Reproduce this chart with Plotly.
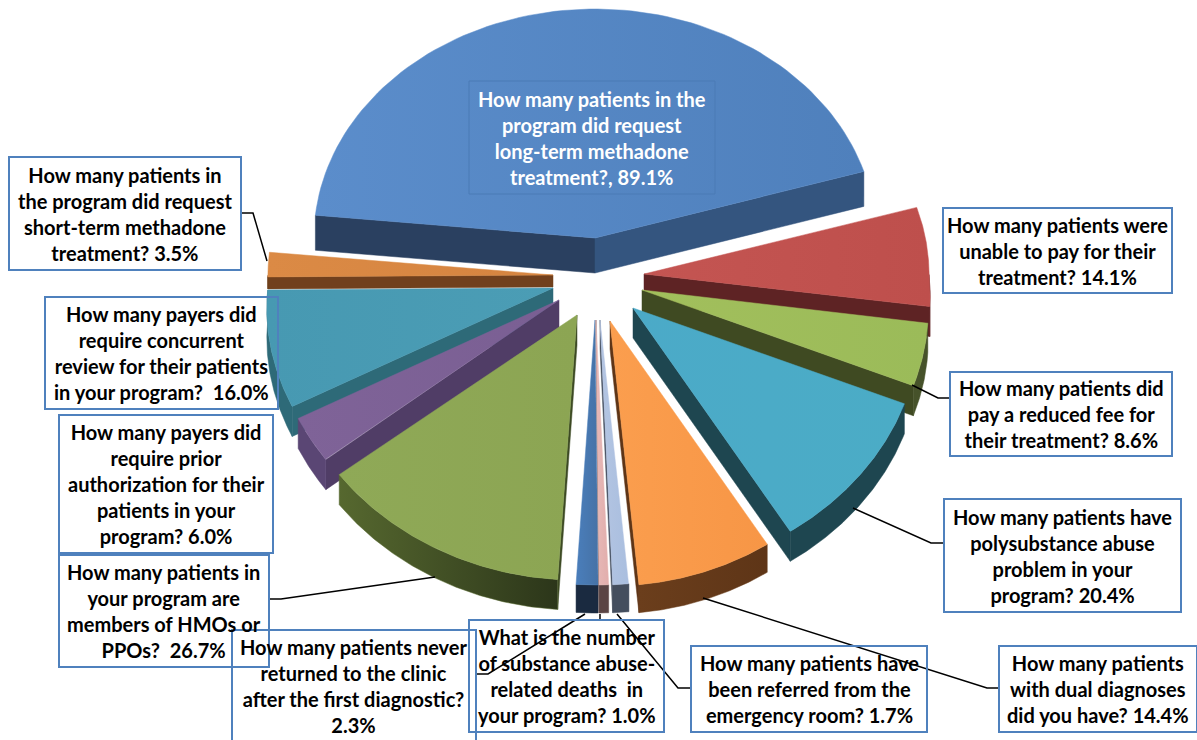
import numpy as np
import plotly.graph_objects as go

# ---- data ----
values = [89.1, 14.1, 8.6, 20.4, 14.4, 1.7, 1.0, 2.3, 26.7, 6.0, 16.0, 3.5]
labels = [
    "How many patients in the<br>program did request<br>long-term methadone<br>treatment?, 89.1%",
    "How many patients were<br>unable to pay for their<br>treatment? 14.1%",
    "How many patients did<br>pay a reduced fee for<br>their treatment? 8.6%",
    "How many patients have<br>polysubstance abuse<br>problem in your<br>program? 20.4%",
    "How many patients<br>with dual diagnoses<br>did you have? 14.4%",
    "How many patients have<br>been referred from the<br>emergency room? 1.7%",
    "What is the number<br>of substance abuse-<br>related deaths  in<br>your program? 1.0%",
    "How many patients never<br>returned to the clinic<br>after the first diagnostic?<br>2.3%",
    "How many patients in<br>your program are<br>members of HMOs or<br>PPOs?  26.7%",
    "How many payers did<br>require prior<br>authorization for their<br>patients in your<br>program? 6.0%",
    "How many payers did<br>require concurrent<br>review for their patients<br>in your program?  16.0%",
    "How many patients in<br>the program did request<br>short-term methadone<br>treatment? 3.5%",
]

# ---- layout of the exploded 3-D look (not data) ----
START = -84.3
apex = [(595, 238), (644, 274), (642, 290), (633, 308), (610, 321), (600, 320),
        (596, 320), (595, 320), (577, 315), (559, 300), (553, 288), (553, 275)]
depth = [35, 30, 30, 30, 28, 28, 28, 28, 30, 30, 30, 12]
rx_base = [281, 285, 285, 285, 285, 285, 285, 285, 291, 285, 285, 285]
top_l = ["#5B8DCB", "#C45552", "#A2BF5C", "#4BAAC8", "#FB9E4E", "#B4C5E2", "#E6B8B7", "#4A7EBB",
         "#8FA957", "#7F6398", "#4799B2", "#DB8A45"]
top_r = ["#4F80BC", "#BE4F4C", "#9BBB59", "#4BACC6", "#F79646", "#A9BEDF", "#E2AEAC", "#4672A6",
         "#8CA553", "#7A5F93", "#4B9DB5", "#D58440"]
wall_s = ["#2A4060", "#5E2324", "#3F4A22", "#1E4650", "#663A1A", "#444E5E", "#5A4444", "#1A2A40",
          "#3D4A24", "#503D66", "#2E6A78", "#71401D"]
wall_e = ["#34557F", "#5E2324", "#3F4A22", "#1E4650", "#5E3517", "#444E5E", "#5A4444", "#1A2A40",
          "#3D4A24", "#503D66", "#2E6A78", "#71401D"]
wall_o = ["#2A4060", "#5E2324", "#46522A", "#1E4650", "#6B3E1C", "#444E5E", "#5A4444", "#1A2A40",
          "#56682F", "#5A4674", "#2E6A78", "#71401D"]
wall_o_r = {8: "#2C361A", 4: "#5E3517"}
draw_order = [0, 1, 11, 2, 10, 9, 3, 4, 8, 7, 6, 5]

boxes = [(469, 81, 715, 194), (943, 208, 1172, 293), (950, 372, 1172, 456), (944, 499, 1181, 612),
         (999, 646, 1197, 732), (691, 646, 927, 732), (469, 620, 664, 732), (232, 630, 476, 760),
         (59, 555, 269, 667), (59, 415, 273, 553), (45, 297, 278, 409), (9, 157, 241, 270)]
leaders = [
    ([241, 253, 267], [213, 213, 261]),
    ([269, 281, 435], [599, 599, 577]),
    ([476, 488, 585], [674, 674, 614]),
    ([600, 600], [614, 620]),
    ([617, 678, 691], [614, 688, 688]),
    ([703, 987, 999], [598, 688, 688]),
    ([853, 931, 944], [508, 543, 543]),
    ([912, 938, 950], [385, 398, 398]),
]
BOX = "#4F81BD"


def rim(cx, cy, deg, base):
    t = np.radians(deg)
    c = np.cos(t)
    front = np.maximum(0, -c)
    rx = base + 26 * front
    ry = 229 + 36 * front
    return cx + rx * np.sin(t), cy - ry * c


def poly(xs, ys, color, right=None):
    kw = dict(x=list(xs) + [xs[0]], y=list(ys) + [ys[0]], mode="lines", fill="toself",
              fillcolor=color, line=dict(width=0.5, color=color), hoverinfo="skip", showlegend=False)
    if right:
        kw["fillgradient"] = dict(type="horizontal", colorscale=[[0, color], [1, right]])
        kw.pop("fillcolor")
    return go.Scatter(**kw)


fig = go.Figure()
total = sum(values)
edges = START + np.concatenate([[0], np.cumsum(values)]) / total * 360

for i in draw_order:
    a, b = edges[i], edges[i + 1]
    cx, cy = apex[i]
    d = depth[i]
    ang = np.linspace(a, b, 90)
    xs, ys = rim(cx, cy, ang, rx_base[i])
    # cut faces that look towards the viewer
    if np.sin(np.radians(a)) < 0:
        fig.add_trace(poly([cx, xs[0], xs[0], cx], [cy, ys[0], ys[0] + d, cy + d], wall_s[i]))
    if np.sin(np.radians(b)) > 0:
        fig.add_trace(poly([cx, xs[-1], xs[-1], cx], [cy, ys[-1], ys[-1] + d, cy + d], wall_e[i]))
    # outer wall, front half only
    vis = np.cos(np.radians(ang)) < 0
    if vis.sum() > 1:
        ox, oy = xs[vis], ys[vis]
        fig.add_trace(poly(list(ox) + list(ox[::-1]), list(oy) + list(oy[::-1] + d), wall_o[i],
                           wall_o_r.get(i)))
    # top face
    fig.add_trace(poly([cx] + list(xs), [cy] + list(ys), top_l[i], top_r[i]))

for lx, ly in leaders:
    fig.add_trace(go.Scatter(x=lx, y=ly, mode="lines", line=dict(color="black", width=1.5),
                             hoverinfo="skip", showlegend=False))

for i, (x0, y0, x1, y1) in enumerate(boxes):
    first = i == 0
    fig.add_shape(type="rect", x0=x0, y0=y0, x1=x1, y1=y1, layer="above",
                  line=dict(color="#4A7AB5" if first else BOX, width=1 if first else 2))
    ymid = (y0 + y1) / 2 if i != 7 else 686
    fig.add_annotation(x=(x0 + x1) / 2, y=ymid, text="<b>" + labels[i] + "</b>",
                       showarrow=False, align="center", xanchor="center", yanchor="middle",
                       font=dict(family="Lato", size=20, color="white" if first else "black"))

fig.update_layout(
    width=1197, height=740, margin=dict(l=0, r=0, t=0, b=0),
    paper_bgcolor="white", plot_bgcolor="white", showlegend=False,
    xaxis=dict(range=[0, 1197], visible=False, fixedrange=True),
    yaxis=dict(range=[740, 0], visible=False, fixedrange=True),
)
fig.write_html("out.html", config=dict(displayModeBar=False),
               post_script="document.body.style.margin='0';")
